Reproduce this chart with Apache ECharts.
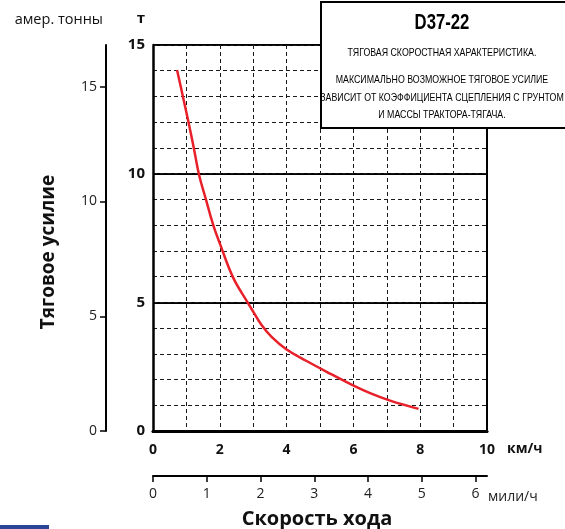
<!DOCTYPE html>
<html>
<head>
<meta charset="utf-8">
<script src="https://cdn.jsdelivr.net/npm/echarts@6/dist/echarts.min.js"></script>
<style>
html,body{margin:0;padding:0;background:#fff;}
#chart{width:565px;height:529px;}
</style>
</head>
<body>
<div id="chart"></div>
<script>
// ---- data ----
var speedKmh = [0.72, 0.89, 1.06, 1.22, 1.38, 1.58, 1.8, 2.0, 2.4, 2.85, 3.0, 3.25, 3.55, 4.0, 4.6, 5.2, 5.9, 6.5, 7.1, 7.95];
var pullTonnes = [14.03, 13.03, 12.02, 11.01, 9.95, 9.02, 8.02, 7.29, 5.96, 4.96, 4.64, 4.12, 3.66, 3.17, 2.72, 2.3, 1.83, 1.47, 1.18, 0.86];
var kmhLabels = [0, 2, 4, 6, 8, 10];
var mphTicks = [0, 1, 2, 3, 4, 5, 6];
var usTonTicks = [0, 5, 10, 15];
var boxTitle = 'D37-22';
var boxLines = [
  'ТЯГОВАЯ СКОРОСТНАЯ ХАРАКТЕРИСТИКА.',
  'МАКСИМАЛЬНО ВОЗМОЖНОЕ ТЯГОВОЕ УСИЛИЕ',
  'ЗАВИСИТ ОТ КОЭФФИЦИЕНТА СЦЕПЛЕНИЯ С ГРУНТОМ',
  'И МАССЫ ТРАКТОРА-ТЯГАЧА.'
];
var xTitle = 'Скорость хода';
var yTitle = 'Тяговое усилие';
var KMH_MAX = 10;
var MPH_MAX = KMH_MAX / 1.609344;
var T_MAX = 15;
var USTON_MAX = 16.82;

var FONT = '"Open Sans", "Noto Sans", sans-serif';
var NARROW = '"Liberation Sans Narrow", "Liberation Sans", sans-serif';

var lineData = speedKmh.map(function (x, i) { return [x, pullTonnes[i]]; });

var chart = echarts.init(document.getElementById('chart'));
var dashed = { color: '#1a1a1a', width: 1, type: [4, 3] };

var graphics = [
  { type: 'rect', z: 100, shape: { x: 321, y: 2, width: 260, height: 126 },
    style: { fill: '#fff', stroke: '#000', lineWidth: 2 } },
  { type: 'text', z: 101, x: 442, y: 23, scaleX: 0.76,
    style: { text: boxTitle, font: 'bold 22px ' + NARROW, fill: '#000', align: 'center', verticalAlign: 'middle' } }
];
var lineY = [53, 80, 97.5, 115];
boxLines.forEach(function (t, i) {
  graphics.push({ type: 'text', z: 101, x: 442, y: lineY[i], scaleX: 0.8,
    style: { text: t, font: '11px ' + NARROW, fill: '#000', align: 'center', verticalAlign: 'middle' } });
});
graphics.push({ type: 'rect', z: 100, shape: { x: 0, y: 525, width: 49, height: 4 }, style: { fill: '#2b4596' } });
graphics.push({ type: 'text', z: 50, x: 317, y: 519,
  style: { text: xTitle, font: 'bold 20px ' + FONT, fill: '#111', align: 'center', verticalAlign: 'middle' } });
graphics.push({ type: 'text', z: 50, x: 49, y: 252, rotation: Math.PI / 2,
  style: { text: yTitle, font: 'bold 19px ' + FONT, fill: '#111', align: 'center', verticalAlign: 'middle' } });

chart.setOption({
  animation: false,
  backgroundColor: '#fff',
  grid: [
    { left: 153, right: 78, top: 45, bottom: 98 },
    { left: 153, right: 78, top: 470, height: 6 }
  ],
  xAxis: [
    { type: 'value', gridIndex: 0, min: 0, max: KMH_MAX, interval: 1, position: 'bottom',
      axisLine: { show: true, onZero: false, lineStyle: { color: '#000', width: 2.5 } },
      axisTick: { show: false },
      axisLabel: { margin: 12, color: '#111', fontFamily: FONT, fontWeight: 'bold', fontSize: 14,
        formatter: function (v) { return kmhLabels.indexOf(v) >= 0 ? String(v) : ''; } },
      splitLine: { show: true, lineStyle: dashed },
      name: 'км/ч', nameLocation: 'end', nameGap: 20,
      nameTextStyle: { color: '#111', fontFamily: FONT, fontWeight: 'bold', fontSize: 14, align: 'left', verticalAlign: 'top', padding: [11, 0, 0, 0] } },
    { type: 'value', gridIndex: 0, min: 0, max: KMH_MAX, position: 'top',
      axisLine: { show: true, lineStyle: { color: '#000', width: 3 } },
      axisTick: { show: false }, axisLabel: { show: false }, splitLine: { show: false } },
    { type: 'value', gridIndex: 1, min: 0, max: MPH_MAX, interval: 1, position: 'bottom',
      axisLine: { show: true, onZero: false, lineStyle: { color: '#000', width: 2 } },
      axisTick: { show: true, length: 6, customValues: mphTicks, lineStyle: { color: '#000', width: 1.5 } },
      axisLabel: { margin: 11, color: '#222', fontFamily: FONT, fontSize: 14, customValues: mphTicks,
        formatter: function (v) { return mphTicks.indexOf(v) >= 0 ? String(v) : ''; } },
      splitLine: { show: false },
      name: 'мили/ч', nameLocation: 'end', nameGap: 1,
      nameTextStyle: { color: '#222', fontFamily: FONT, fontSize: 14, align: 'left', verticalAlign: 'top', padding: [14, 0, 0, 0] } }
  ],
  yAxis: [
    { type: 'value', gridIndex: 0, min: 0, max: T_MAX, interval: 5, position: 'left',
      axisLine: { show: true, lineStyle: { color: '#000', width: 2.5 } },
      axisTick: { show: false },
      axisLabel: { margin: 8, color: '#111', fontFamily: FONT, fontWeight: 'bold', fontSize: 15 },
      splitLine: { show: true, lineStyle: { color: '#000', width: 2 } },
      name: 'т', nameLocation: 'end', nameGap: 26,
      nameTextStyle: { color: '#111', fontFamily: FONT, fontWeight: 'bold', fontSize: 15, align: 'right', verticalAlign: 'middle', padding: [0, 8, 0, 0] } },
    { type: 'value', gridIndex: 0, min: 0, max: T_MAX, interval: 1, position: 'left',
      axisLine: { show: false }, axisTick: { show: false }, axisLabel: { show: false },
      splitLine: { show: true, lineStyle: dashed } },
    { type: 'value', gridIndex: 0, min: 0, max: T_MAX, interval: 5, position: 'right',
      axisLine: { show: true, lineStyle: { color: '#000', width: 2 } },
      axisTick: { show: false }, axisLabel: { show: false }, splitLine: { show: false } },
    { type: 'value', gridIndex: 0, min: 0, max: USTON_MAX, interval: 5, position: 'left', offset: 47,
      axisLine: { show: true, lineStyle: { color: '#000', width: 2 } },
      axisTick: { show: true, length: 6, customValues: usTonTicks, lineStyle: { color: '#000', width: 1.5 } },
      axisLabel: { margin: 9, color: '#222', fontFamily: FONT, fontSize: 14, customValues: usTonTicks,
        formatter: function (v) { return usTonTicks.indexOf(v) >= 0 ? String(v) : ''; } },
      splitLine: { show: false },
      name: 'амер. тонны', nameLocation: 'end', nameGap: 25,
      nameTextStyle: { color: '#111', fontFamily: FONT, fontSize: 14.5, align: 'right', verticalAlign: 'middle', padding: [0, 3, 0, 0] } },
    { type: 'value', gridIndex: 1, min: 0, max: 1, show: false }
  ],
  graphic: graphics,
  series: [
    { type: 'line', xAxisIndex: 0, yAxisIndex: 0, data: lineData, smooth: 0.4,
      showSymbol: false, symbol: 'none', z: 5,
      lineStyle: { color: '#e8202a', width: 2.5 } }
  ]
});
</script>
</body>
</html>
